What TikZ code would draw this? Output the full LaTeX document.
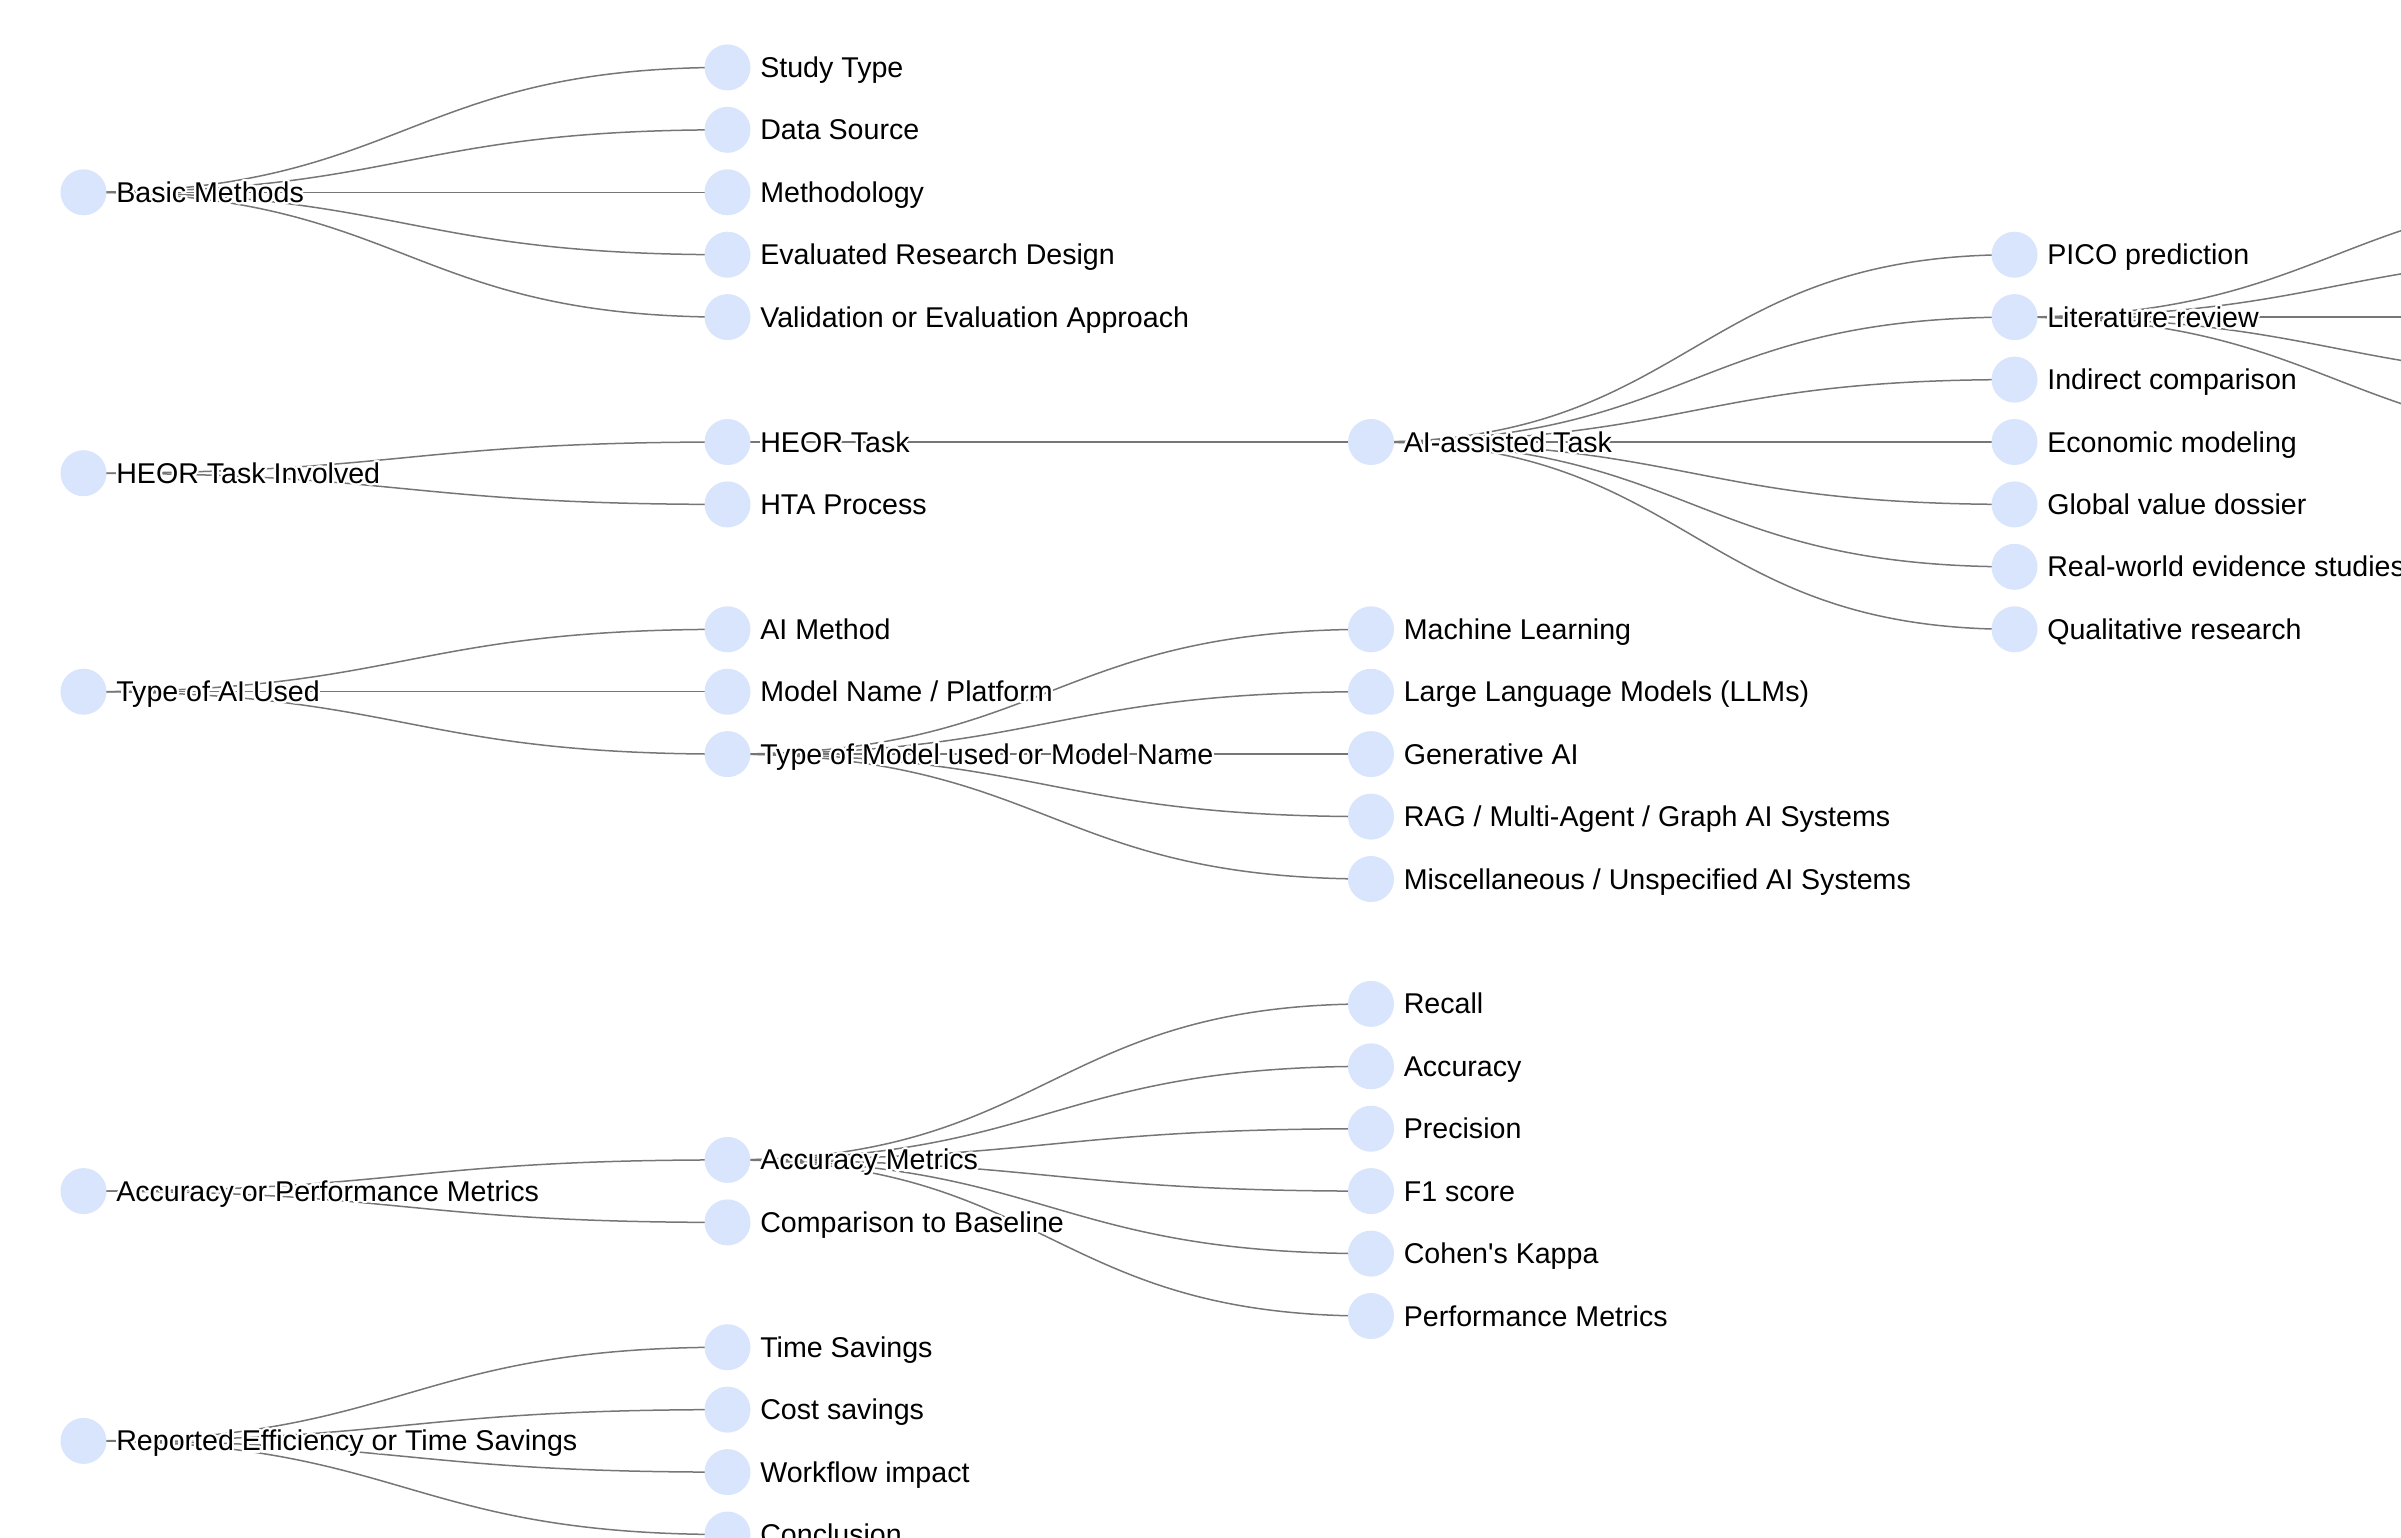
\documentclass[tikz,border=0pt]{standalone}
\usepackage{fontspec}
\setmainfont{Liberation Sans}
\usepackage[copies]{contour}
\contourlength{1.1pt}
\contournumber{24}
\usetikzlibrary{backgrounds}
\definecolor{dotblue}{RGB}{216,229,252}
\definecolor{linkgray}{RGB}{118,118,118}
\newcommand{\tx}[1]{\contour{white}{#1}}

\begin{document}
\begin{tikzpicture}[
  x=0.5pt, y=-0.5pt,
  dot/.style={circle, draw=none, fill=dotblue, minimum size=23pt, inner sep=0pt},
  lbl/.style={font=\fontsize{14.3}{16}\selectfont, inner sep=0pt, text height=12.9pt, text depth=2.9pt},
  every label/.style={label distance=4.5pt},
  e/.style={draw=linkgray, line width=0.75pt,
    to path={.. controls +(322,0) and +(-322,0) .. (\tikztotarget)}}
]
\useasboundingbox (0,0) rectangle (2401,1537);
\clip (0,0) rectangle (2401,1537);

% --- level 0 ---
\node[dot, label={[lbl]right:\tx{Basic Methods}}] (basic) at (83.5,192.3) {};
\node[dot, label={[lbl]right:\tx{HEOR Task Involved}}] (heor) at (83.5,473.2) {};
\node[dot, label={[lbl]right:\tx{Type of AI Used}}] (aitype) at (83.5,691.7) {};
\node[dot, label={[lbl]right:\tx{Accuracy or Performance Metrics}}] (accperf) at (83.5,1191.1) {};
\node[dot, label={[lbl]right:\tx{Reported Efficiency or Time Savings}}] (effic) at (83.5,1440.9) {};

% --- level 1 ---
\node[dot, label={[lbl]right:\tx{Study Type}}] (study) at (727.5,67.4) {};
\node[dot, label={[lbl]right:\tx{Data Source}}] (datasrc) at (727.5,129.8) {};
\node[dot, label={[lbl]right:\tx{Methodology}}] (method) at (727.5,192.3) {};
\node[dot, label={[lbl]right:\tx{Evaluated Research Design}}] (evaldesign) at (727.5,254.7) {};
\node[dot, label={[lbl]right:\tx{Validation or Evaluation Approach}}] (valid) at (727.5,317.1) {};
\node[dot, label={[lbl]right:\tx{HEOR Task}}] (heortask) at (727.5,442.0) {};
\node[dot, label={[lbl]right:\tx{HTA Process}}] (hta) at (727.5,504.4) {};
\node[dot, label={[lbl]right:\tx{AI Method}}] (aimethod) at (727.5,629.3) {};
\node[dot, label={[lbl]right:\tx{Model Name / Platform}}] (modelname) at (727.5,691.7) {};
\node[dot, label={[lbl]right:\tx{Type of Model used or Model Name}}] (modeltype) at (727.5,754.1) {};
\node[dot, label={[lbl]right:\tx{Accuracy Metrics}}] (accmetrics) at (727.5,1159.9) {};
\node[dot, label={[lbl]right:\tx{Comparison to Baseline}}] (baseline) at (727.5,1222.4) {};
\node[dot, label={[lbl]right:\tx{Time Savings}}] (timesave) at (727.5,1347.2) {};
\node[dot, label={[lbl]right:\tx{Cost savings}}] (costsave) at (727.5,1409.6) {};
\node[dot, label={[lbl]right:\tx{Workflow impact}}] (workflow) at (727.5,1472.1) {};
\node[dot, label={[lbl]right:\tx{Conclusion}}] (concl) at (727.5,1534.5) {};

% --- level 2 ---
\node[dot, label={[lbl]right:\tx{AI-assisted Task}}] (aitask) at (1371,442.0) {};
\node[dot, label={[lbl]right:\tx{Machine Learning}}] (ml) at (1371,629.3) {};
\node[dot, label={[lbl]right:\tx{Large Language Models (LLMs)}}] (llm) at (1371,691.7) {};
\node[dot, label={[lbl]right:\tx{Generative AI}}] (genai) at (1371,754.1) {};
\node[dot, label={[lbl]right:\tx{RAG / Multi-Agent / Graph AI Systems}}] (rag) at (1371,816.6) {};
\node[dot, label={[lbl]right:\tx{Miscellaneous / Unspecified AI Systems}}] (misc) at (1371,879.0) {};
\node[dot, label={[lbl]right:\tx{Recall}}] (recall) at (1371,1003.9) {};
\node[dot, label={[lbl]right:\tx{Accuracy}}] (acc) at (1371,1066.3) {};
\node[dot, label={[lbl]right:\tx{Precision}}] (prec) at (1371,1128.7) {};
\node[dot, label={[lbl]right:\tx{F1 score}}] (fone) at (1371,1191.1) {};
\node[dot, label={[lbl]right:\tx{Cohen\textquotesingle s Kappa}}] (kappa) at (1371,1253.6) {};
\node[dot, label={[lbl]right:\tx{Performance Metrics}}] (perf) at (1371,1316.0) {};

% --- level 3 ---
\node[dot, label={[lbl]right:\tx{PICO prediction}}] (pico) at (2014.5,254.7) {};
\node[dot, label={[lbl]right:\tx{Literature review}}] (litrev) at (2014.5,317.1) {};
\node[dot, label={[lbl]right:\tx{Indirect comparison}}] (indirect) at (2014.5,379.6) {};
\node[dot, label={[lbl]right:\tx{Economic modeling}}] (econ) at (2014.5,442.0) {};
\node[dot, label={[lbl]right:\tx{Global value dossier}}] (gvd) at (2014.5,504.4) {};
\node[dot, label={[lbl]right:\tx{Real-world evidence studies}}] (rwe) at (2014.5,566.8) {};
\node[dot, label={[lbl]right:\tx{Qualitative research}}] (qual) at (2014.5,629.3) {};

% level 4 lies past the right edge
\coordinate (lit1) at (2658,192.3);
\coordinate (lit2) at (2658,254.7);
\coordinate (lit3) at (2658,317.1);
\coordinate (lit4) at (2658,379.6);
\coordinate (lit5) at (2658,442.0);

% --- links (behind the dots) ---
\begin{pgfonlayer}{background}
\path[e] (basic.center) to (study.center);
\path[e] (basic.center) to (datasrc.center);
\path[e] (basic.center) to (method.center);
\path[e] (basic.center) to (evaldesign.center);
\path[e] (basic.center) to (valid.center);
\path[e] (heor.center) to (heortask.center);
\path[e] (heor.center) to (hta.center);
\path[e] (aitype.center) to (aimethod.center);
\path[e] (aitype.center) to (modelname.center);
\path[e] (aitype.center) to (modeltype.center);
\path[e] (accperf.center) to (accmetrics.center);
\path[e] (accperf.center) to (baseline.center);
\path[e] (effic.center) to (timesave.center);
\path[e] (effic.center) to (costsave.center);
\path[e] (effic.center) to (workflow.center);
\path[e] (effic.center) to (concl.center);
\path[e] (heortask.center) to (aitask.center);
\path[e] (modeltype.center) to (ml.center);
\path[e] (modeltype.center) to (llm.center);
\path[e] (modeltype.center) to (genai.center);
\path[e] (modeltype.center) to (rag.center);
\path[e] (modeltype.center) to (misc.center);
\path[e] (accmetrics.center) to (recall.center);
\path[e] (accmetrics.center) to (acc.center);
\path[e] (accmetrics.center) to (prec.center);
\path[e] (accmetrics.center) to (fone.center);
\path[e] (accmetrics.center) to (kappa.center);
\path[e] (accmetrics.center) to (perf.center);
\path[e] (aitask.center) to (pico.center);
\path[e] (aitask.center) to (litrev.center);
\path[e] (aitask.center) to (indirect.center);
\path[e] (aitask.center) to (econ.center);
\path[e] (aitask.center) to (gvd.center);
\path[e] (aitask.center) to (rwe.center);
\path[e] (aitask.center) to (qual.center);
\path[e] (litrev.center) to (lit1);
\path[e] (litrev.center) to (lit2);
\path[e] (litrev.center) to (lit3);
\path[e] (litrev.center) to (lit4);
\path[e] (litrev.center) to (lit5);
\end{pgfonlayer}

\end{tikzpicture}
\end{document}
